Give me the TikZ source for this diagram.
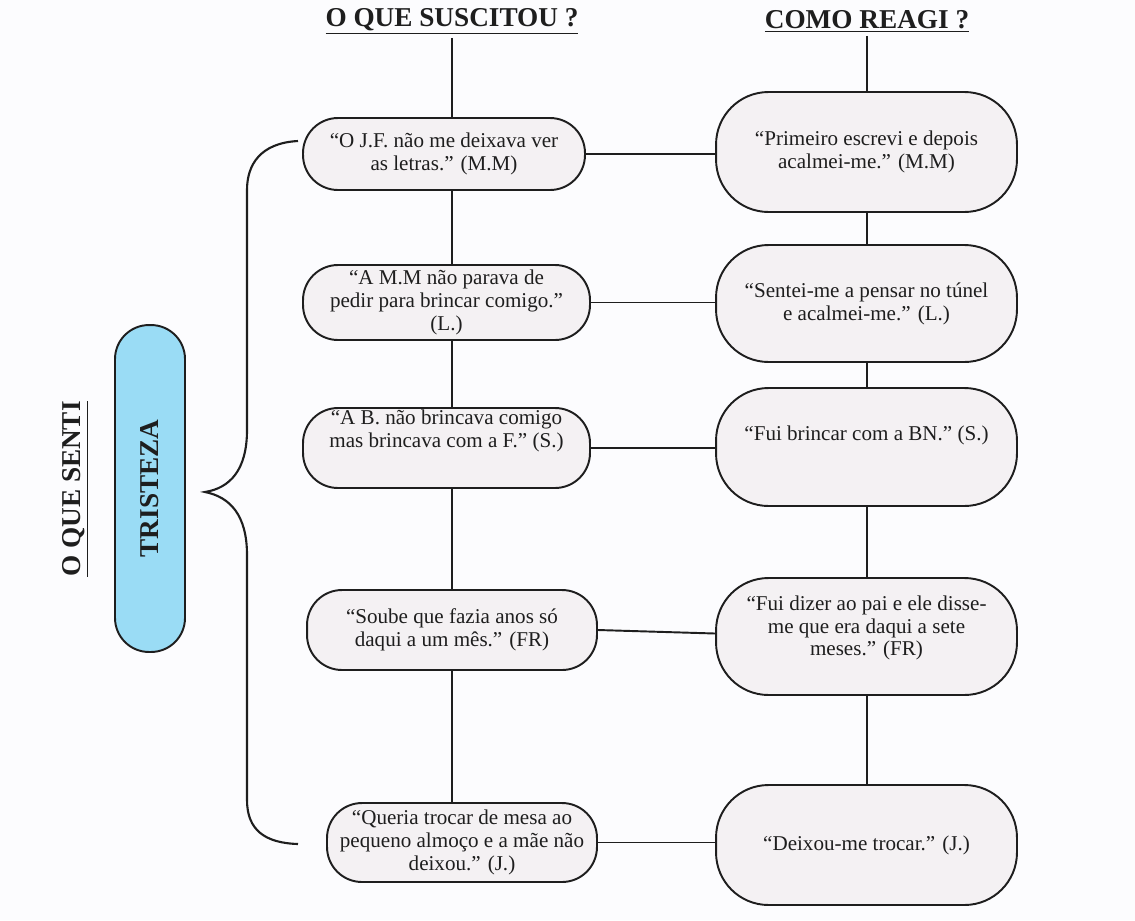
\documentclass[tikz,border=0pt]{standalone}
\usepackage{fontspec}
\setmainfont{Liberation Serif}
\usetikzlibrary{calc}
\definecolor{boxfill}{HTML}{F4F1F3}
\definecolor{tristfill}{HTML}{9ADCF5}
\definecolor{bgc}{HTML}{FCFCFE}
\definecolor{ink}{HTML}{1E1E1E}
\tikzset{
  ln/.style={line width=1.1pt, draw=ink},
  boxtext/.style={align=center, text=ink, font=\rmfamily\fontsize{12}{13}\selectfont},
  lbox/.style={boxtext, draw=ink, line width=1.1pt, fill=boxfill, rounded corners=0.7cm, inner sep=0pt},
  rbox/.style={lbox, rounded corners=1.05cm, minimum width=6.02cm},
  head/.style={text=ink, font=\rmfamily\fontsize{15.5}{18}\selectfont\bfseries, inner sep=2pt}
}
\begin{document}
\begin{tikzpicture}[x=0.02cm,y=-0.02cm]
\fill[bgc] (0,0) rectangle (1135,920);
\useasboundingbox (0,0) rectangle (1135,920);

% headers
\node[head] (h1) at (452,21) {\underline{O QUE SUSCITOU ?}};
\node[head] (h2) at (867,21) {\underline{COMO REAGI ?}};

% left column
\node[lbox, minimum width=5.64cm, minimum height=1.44cm] (l1) at (444,154) {“O J.F. não me deixava ver\\as letras.” (M.M)};
\node[lbox, minimum width=5.74cm, minimum height=1.5cm] (l2) at (446.5,302.5) {“A M.M não parava de\\pedir para brincar comigo.”\\(L.)};
\node[lbox, minimum width=5.74cm, minimum height=1.6cm] (l3) at (446.5,448) {};
\node[boxtext] (l3t) at (446.5,431) {“A B. não brincava comigo\\mas brincava com a F.” (S.)};
\node[lbox, minimum width=5.8cm, minimum height=1.6cm] (l4) at (452,630) {“Soube que fazia anos só\\daqui a um mês.” (FR)};
\node[lbox, minimum width=5.4cm, minimum height=1.58cm] (l5) at (462,842.5) {“Queria trocar de mesa ao\\pequeno almoço e a mãe não\\deixou.” (J.)};

% right column
\node[rbox, minimum height=2.4cm] (r1) at (866.5,152) {“Primeiro escrevi e depois\\acalmei-me.” (M.M)};
\node[rbox, minimum height=2.34cm] (r2) at (866.5,303.5) {“Sentei-me a pensar no túnel\\e acalmei-me.” (L.)};
\node[rbox, minimum height=2.36cm] (r3) at (866.5,447) {};
\node[boxtext] (r3t) at (866.5,435) {“Fui brincar com a BN.” (S.)};
\node[rbox, minimum height=2.34cm] (r4) at (866.5,636.5) {};
\node[boxtext] (r4t) at (866.5,628) {“Fui dizer ao pai e ele disse-\\me que era daqui a sete\\meses.” (FR)};
\node[rbox, minimum height=2.4cm] (r5) at (866.5,845) {“Deixou-me trocar.” (J.)};

% vertical connectors
\draw[ln] (h1.south) -- (h1.south |- l1.north);
\foreach \a/\b in {l1/l2,l2/l3,l3/l4,l4/l5}
  \draw[ln] (\a.south -| h1.south) -- (\b.north -| h1.south);
\draw[ln] (h2.south) -- (h2.south |- r1.north);
\foreach \a/\b in {r1/r2,r2/r3,r3/r4,r4/r5}
  \draw[ln] (\a.south -| h2.south) -- (\b.north -| h2.south);

% horizontal connectors
\foreach \i in {1,2,3,5}
  \draw[ln] (l\i.east) -- (l\i.east -| r\i.west);
\draw[ln] (l4.east) -- ($(r4.west)+(0,-3)$);

% left part
\node[draw=ink, line width=1.1pt, fill=tristfill, minimum width=1.4cm, minimum height=6.54cm, rounded corners=0.68cm, inner sep=0pt] (tr) at (150,488.5) {\rotatebox{90}{\rmfamily\fontsize{15.5}{18}\selectfont\bfseries\color{ink}TRISTEZA}};
\node[head, rotate=90] (senti) at (75,489) {\underline{O QUE SENTI}};

% brace
\draw[ln, line width=1.2pt] (298,141) .. controls (260,143) and (247,165) .. (247,190) -- (247,430)
  .. controls (247,470) and (230,488) .. (205,492)
  .. controls (230,497) and (247,515) .. (247,555) -- (247,800)
  .. controls (247,830) and (265,843) .. (298,844);
\end{tikzpicture}
\end{document}
